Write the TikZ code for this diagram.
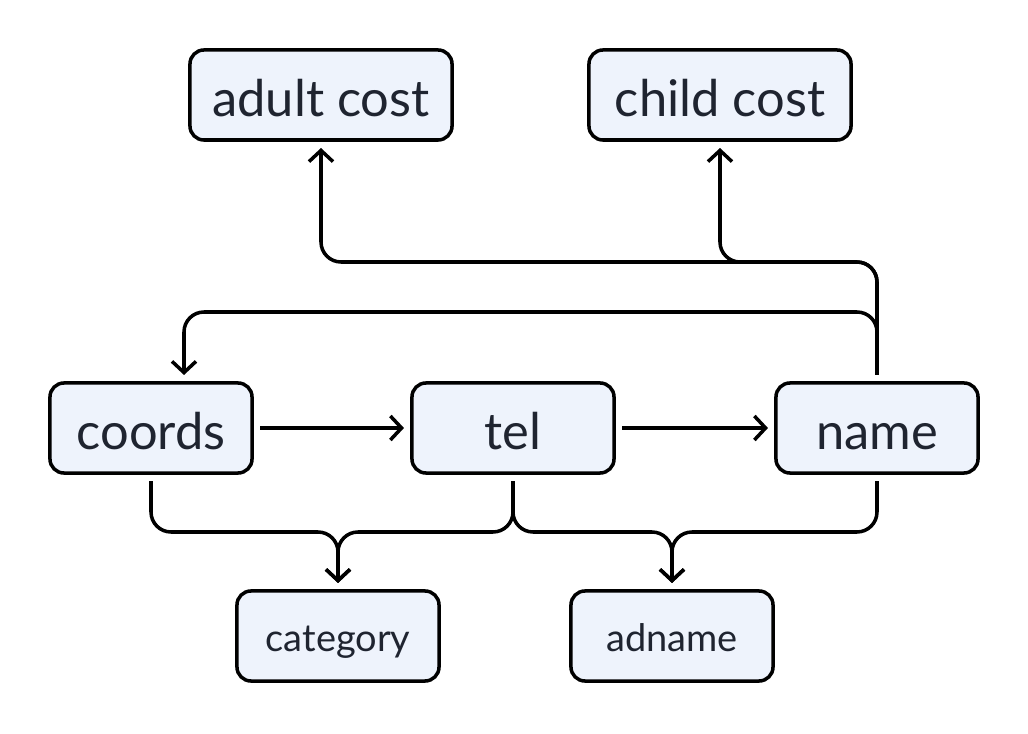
\documentclass[tikz,border=0pt]{standalone}
\usepackage{fontspec}
\setmainfont{Lato}
\usepackage{tikz}
\usetikzlibrary{calc}
\usetikzlibrary{arrows.meta}
\definecolor{boxfill}{HTML}{EEF3FC}
\definecolor{boxtext}{HTML}{1F2430}
\tikzset{
b/.style={
  rectangle,rounded corners=3.5mm,
  inner sep=0pt,
  minimum width=5.05cm,
  minimum height=2.25cm,
  outer sep=0.2cm,
  align=center,
  text height=30.5pt,text depth=0pt,
  draw=black,line width=2.5pt,
  fill=boxfill,
  text=boxtext,
  font=\fontsize{36}{40}\selectfont
  },
bs/.style={
  b,
  text height=22.5pt,
  font=\fontsize{27}{30}\selectfont
  },
bw/.style={
  b,
  minimum width=6.55cm
  },
link/.style={
  line width=2.5pt,rounded corners=0.5cm,
  -{Straight Barb[length=0.28cm,width=0.6cm,line width=2.5pt]}
  }
}

\begin{document}
\begin{tikzpicture}[x=0.025cm,y=-0.025cm]
            \useasboundingbox (0,0) rectangle (1028,734);
            \node[bw] (adult) at (321,95) {adult cost};
            \node[bw] (child) at (720,95) {child cost};
            \node[b] (coords) at (151,428) {coords};
            \node[b] (tel) at (513,428) {tel};
            \node[b] (name) at (877,428) {name};
            \node[bs] (cat) at (338,636) {category};
            \node[bs] (adn) at (672,636) {adname};
            \coordinate (topbus) at (0,262);
            \coordinate (backbus) at (0,312);
            \coordinate (lowbus) at (0,532);
            % row of arrows
            \draw[link] (coords) -- (tel);
            \draw[link] (tel) -- (name);
            % up from name
            \draw[link] (name.north) |- (adult.south |- topbus) -- (adult.south);
            \draw[link] (name.north) |- (child.south |- topbus) -- (child.south);
            \draw[link] (name.north) |- ($(coords.north |- backbus)+(33,0)$) -- ($(coords.north)+(33,0)$);
            % down to category and adname
            \draw[link] (coords.south) |- (cat.north |- lowbus) -- (cat.north);
            \draw[link] (tel.south) |- (cat.north |- lowbus) -- (cat.north);
            \draw[link] (name.south) |- (adn.north |- lowbus) -- (adn.north);
            \draw[link] (tel.south) |- (adn.north |- lowbus) -- (adn.north);
        \end{tikzpicture}
\end{document}
